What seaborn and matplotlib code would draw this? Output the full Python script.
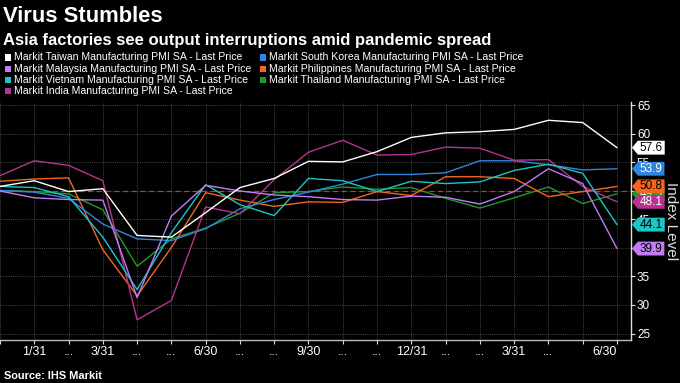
import matplotlib
matplotlib.use("Agg")
import matplotlib.pyplot as plt
import matplotlib.font_manager as fm
import matplotlib.transforms as mtransforms
from matplotlib.path import Path
from matplotlib.patches import Rectangle
import seaborn as sns
import pandas as pd

# ---------------- data ----------------
tick_labels = ["", "1/31", "...", "3/31", "...", "...", "6/30", "...", "...", "9/30",
               "...", "...", "12/31", "...", "...", "3/31", "...", "", "6/30"]

taiwan = [50.8, 51.8, 49.9, 50.4, 42.2, 41.9, 46.2, 50.6, 52.2, 55.2, 55.1, 56.9, 59.4, 60.2, 60.4, 60.8, 62.4, 62.0, 57.6]
south_korea = [50.1, 49.8, 48.7, 44.2, 41.6, 41.3, 43.4, 46.9, 48.5, 49.8, 51.2, 52.9, 52.9, 53.2, 55.3, 55.3, 54.6, 53.7, 53.9]
malaysia = [50.0, 48.8, 48.5, 48.4, 31.3, 45.6, 51.0, 50.0, 49.3, 49.0, 48.5, 48.4, 49.1, 48.9, 47.7, 49.9, 53.9, 51.3, 39.9]
philippines = [51.7, 52.1, 52.3, 39.7, 31.6, 40.1, 49.7, 48.4, 47.3, 48.1, 48.0, 49.9, 49.2, 52.5, 52.5, 52.2, 49.0, 49.9, 50.8]
vietnam = [50.8, 50.6, 49.0, 41.9, 32.7, 42.7, 51.1, 47.6, 45.7, 52.2, 51.8, 49.9, 51.7, 51.3, 51.6, 53.6, 54.7, 53.1, 44.1]
thailand = [50.1, 49.9, 49.5, 46.7, 36.8, 41.6, 43.5, 46.1, 49.7, 49.9, 50.7, 50.3, 50.6, 48.7, 47.0, 48.8, 50.7, 47.8, 49.5]
india = [52.7, 55.3, 54.5, 51.8, 27.4, 30.8, 47.2, 46.0, 52.0, 56.8, 58.9, 56.3, 56.4, 57.7, 57.5, 55.4, 55.5, 50.8, 48.1]

series_names = [
    "Markit Taiwan Manufacturing PMI SA - Last Price",
    "Markit South Korea Manufacturing PMI SA - Last Price",
    "Markit Malaysia Manufacturing PMI SA - Last Price",
    "Markit Philippines Manufacturing PMI SA - Last Price",
    "Markit Vietnam Manufacturing PMI SA - Last Price",
    "Markit Thailand Manufacturing PMI SA - Last Price",
    "Markit India Manufacturing PMI SA - Last Price",
]
series_values = [taiwan, south_korea, malaysia, philippines, vietnam, thailand, india]
series_colors = ["#ffffff", "#2f86e0", "#c07cf2", "#f4661b", "#1cc6c6", "#1e9a2a", "#b8338f"]
label_text_colors = ["black", "white", "black", "black", "black", "white", "white"]
reference_level = 50

# ---------------- fonts ----------------
names = {f.name for f in fm.fontManager.ttflist}
FONT = ["Liberation Sans", "DejaVu Sans"] if "Liberation Sans" in names else ["DejaVu Sans"]

sns.set_theme(style="dark")
plt.rcParams["font.family"] = FONT

rows = []
for name, vals in zip(series_names, series_values):
    for i, v in enumerate(vals):
        rows.append({"idx": i, "value": v, "series": name})
df = pd.DataFrame(rows)

W, H = 680, 383
fig = plt.figure(figsize=(W / 100, H / 100), dpi=100, facecolor="black")
ax_l, ax_r, ax_t, ax_b = 0, 630.7, 102, 340
ax = fig.add_axes([ax_l / W, 1 - ax_b / H, (ax_r - ax_l) / W, (ax_b - ax_t) / H])
ax.set_facecolor("black")

for s in ["left", "top"]:
    ax.spines[s].set_visible(False)
ax.spines["bottom"].set_color("#bbbbbb")
ax.spines["right"].set_color("#dddddd")
ax.spines["bottom"].set_linewidth(1.0)
ax.spines["right"].set_linewidth(1.0)
ax.grid(True, color="#5a5a5a", linestyle=(0, (1, 1.5)), linewidth=0.6)

ax.axhline(reference_level, color="#b8402a", linestyle=(0, (4, 3)), linewidth=0.9, zorder=1)

draw_order = [5, 3, 1, 6, 4, 2, 0]
hue_order = [series_names[i] for i in draw_order]
palette = {series_names[i]: series_colors[i] for i in range(len(series_names))}
sns.lineplot(data=df, x="idx", y="value", hue="series", hue_order=hue_order,
             palette=palette, linewidth=1.0, legend=False, ax=ax, zorder=3)

ax.set_xlim(0, 18.4)
ax.set_ylim(23.86, 65.61)
ax.set_xlabel("")
ax.set_ylabel("")

ax.set_xticks(range(len(tick_labels)))
ax.set_xticklabels(tick_labels)
ax.tick_params(axis="x", colors="#dddddd", labelcolor="white", length=3, width=0.8,
               labelsize=9, pad=1.5, bottom=True)
ax.get_xticklabels()[-1].set_ha("right")
ax.set_yticks([25, 30, 35, 40, 45, 50, 55, 60, 65])
ax.yaxis.tick_right()
ax.tick_params(axis="y", colors="#dddddd", labelcolor="white", length=3, width=0.8,
               labelsize=8.5, pad=1.5, right=True, left=False)

fig.text(671 / W, 1 - 221 / H, "Index Level", color="#dddddd", fontsize=11,
         rotation=270, ha="center", va="center")


# value labels
def arrow_box(x0, y0, width, height, mutation_size):
    padx = 0.16 * mutation_size
    pady = 0.08 * mutation_size
    x0 -= padx
    y0 -= pady
    width += 2 * padx
    height += 2 * pady
    tip = height * 0.42
    x1, y1, ym = x0 + width, y0 + height, y0 + height / 2
    verts = [(x0, y0), (x1, y0), (x1, y1), (x0, y1), (x0 - tip, ym), (x0, y0)]
    return Path(verts, closed=True)


trans = mtransforms.blended_transform_factory(ax.transAxes, ax.transData)
offset = mtransforms.ScaledTranslation(9 / 100, 0, fig.dpi_scale_trans)
label_order = [5, 0, 1, 3, 6, 4, 2]
for i in label_order:
    v = series_values[i][-1]
    ax.text(1.0, v, f"{v:.1f}", transform=trans + offset, ha="left", va="center",
            fontsize=8.5, color=label_text_colors[i], clip_on=False, zorder=10,
            bbox=dict(boxstyle=arrow_box, facecolor=series_colors[i], edgecolor="none"))

# titles
fig.text(3 / W, 1 - 16 / H, "Virus Stumbles", color="white", fontsize=15.8,
         fontweight="bold", va="center", ha="left")
fig.text(3 / W, 1 - 41 / H, "Asia factories see output interruptions amid pandemic spread",
         color="white", fontsize=12, fontweight="bold", va="center", ha="left")

# legend
legend_layout = [(0, 0), (1, 0), (0, 1), (1, 1), (0, 2), (1, 2), (0, 3)]
col_x = [4.5, 259.5]
row_y = [57.3, 68.7, 79.9, 91.1]
for (c, r), name, col in zip(legend_layout, series_names, series_colors):
    x, y = col_x[c], row_y[r]
    fig.add_artist(Rectangle((x / W, 1 - (y + 3.2) / H), 6.4 / W, 6.4 / H,
                             transform=fig.transFigure, facecolor=col, edgecolor="none"))
    fig.text((x + 9.5) / W, 1 - y / H, name, color="white", fontsize=7.6,
             va="center", ha="left")

fig.text(4 / W, 1 - 376 / H, "Source: IHS Markit", color="white", fontsize=7.9,
         fontweight="bold", va="center", ha="left")

fig.savefig("out.png", dpi=100, facecolor="black")
